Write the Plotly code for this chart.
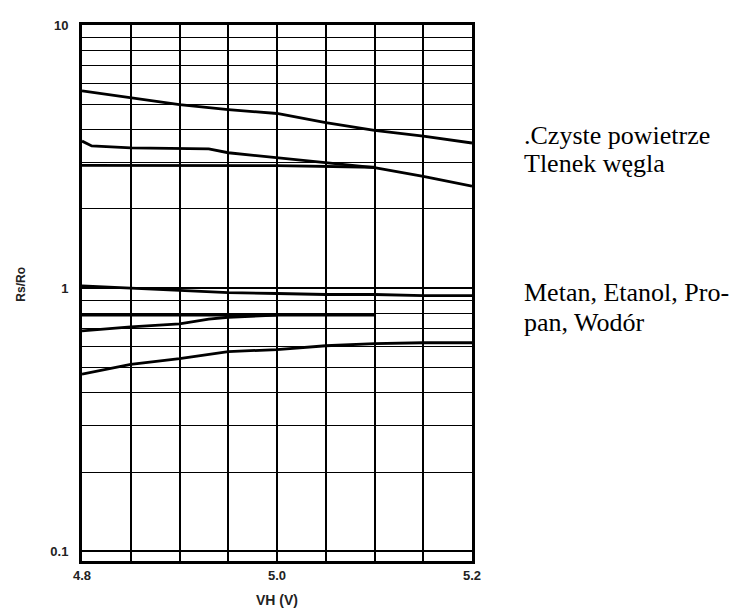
import plotly.graph_objects as go

# Heater voltage (V) grid
vh = [4.80, 4.85, 4.90, 4.95, 5.00, 5.05, 5.10, 5.15, 5.20]
# Rs/Ro curves
air = [5.62, 5.29, 4.98, 4.77, 4.61, 4.26, 3.98, 3.78, 3.56]
co_x = [4.80, 4.81, 4.85, 4.90, 4.93, 4.95, 5.00, 5.05, 5.10, 5.15, 5.20]
co = [3.62, 3.47, 3.41, 3.38, 3.38, 3.27, 3.13, 3.00, 2.87, 2.66, 2.44]
co2_x = [4.80, 4.90, 5.00, 5.10]
co2 = [2.93, 2.93, 2.92, 2.88]
ch4 = [1.02, 1.00, 0.979, 0.962, 0.954, 0.946, 0.946, 0.937, 0.937]
etoh_flat_x = [4.80, 5.10]
etoh_flat = [0.79, 0.79]
etoh_x = [4.80, 4.85, 4.90, 4.93, 4.95, 5.00]
etoh = [0.688, 0.712, 0.731, 0.762, 0.775, 0.79]
h2 = [0.471, 0.513, 0.540, 0.574, 0.584, 0.604, 0.615, 0.620, 0.620]

x_ticks = [4.8, 5.0, 5.2]
x_ticktext = ["4.8", "5.0", "5.2"]
y_ticks = [0.1, 1, 10]
y_ticktext = ["0.1", "1", "10"]
y_minor = [0.2, 0.3, 0.4, 0.5, 0.6, 0.7, 0.8, 0.9, 2, 3, 4, 5, 6, 7, 8, 9]

label_lines = [".Czyste powietrze", "Tlenek węgla", "Metan, Etanol, Pro-", "pan, Wodór"]
label_centers_px = [130, 159, 290, 320]

# page body has an 8px margin; plot area in window px: x 82..472, y 18..563
OFF = 8
PL, PR, PT, PB = 82, 472, 18, 563
W, H = 741 - OFF, 616 - OFF

fig = go.Figure()
series = [
    (vh, air), (co_x, co), (co2_x, co2), (vh, ch4),
    (etoh_flat_x, etoh_flat), (etoh_x, etoh), (vh, h2),
]
for xs, ys in series:
    fig.add_trace(go.Scatter(x=xs, y=ys, mode="lines",
                             line=dict(color="black", width=2.8),
                             showlegend=False, hoverinfo="skip"))

tickfont = dict(family="Liberation Sans", size=13, color="#222")
fig.update_xaxes(
    range=[4.8, 5.2], tickmode="array", tickvals=x_ticks,
    ticktext=["<b>%s</b>" % t for t in x_ticktext], tickfont=tickfont,
    showgrid=True, gridcolor="black", gridwidth=1.6,
    minor=dict(dtick=0.05, tick0=4.8, showgrid=True, gridcolor="black", gridwidth=1.6),
    showline=True, linecolor="black", linewidth=3, mirror=True,
    ticks="", zeroline=False, ticklabelstandoff=0,
    title=dict(text="<b>VH (V)</b>", font=dict(family="Liberation Sans", size=14, color="#222"), standoff=14),
)
fig.update_yaxes(
    type="log", range=[-1.037, 1.0], tickmode="array", tickvals=y_ticks,
    ticktext=["<b>%s</b>" % t for t in y_ticktext], tickfont=tickfont,
    showgrid=True, gridcolor="black", gridwidth=1.6,
    minor=dict(tickmode="array", tickvals=y_minor, showgrid=True, gridcolor="black", gridwidth=1.4),
    showline=True, linecolor="black", linewidth=3, mirror=True,
    ticks="", zeroline=False, ticklabelstandoff=8,
)

pw, ph = PR - PL, PB - PT
fig.add_annotation(text="<b>Rs/Ro</b>", xref="paper", yref="paper",
                   x=(12 - PL) / pw, y=(PB - 282) / ph, textangle=-90,
                   showarrow=False, font=dict(family="Liberation Sans", size=12, color="#222"))
for txt, cy in zip(label_lines, label_centers_px):
    fig.add_annotation(text=txt, xref="paper", yref="paper", xanchor="left", yanchor="middle",
                       align="left", x=(522 - PL) / pw, y=(PB - cy) / ph, showarrow=False,
                       font=dict(family="Liberation Serif", size=26, color="black"))

fig.update_layout(
    width=W, height=H, autosize=False,
    margin=dict(l=PL - OFF, r=741 - PR, t=PT - OFF, b=616 - PB),
    paper_bgcolor="white", plot_bgcolor="white",
)
fig.write_html("out.html")
